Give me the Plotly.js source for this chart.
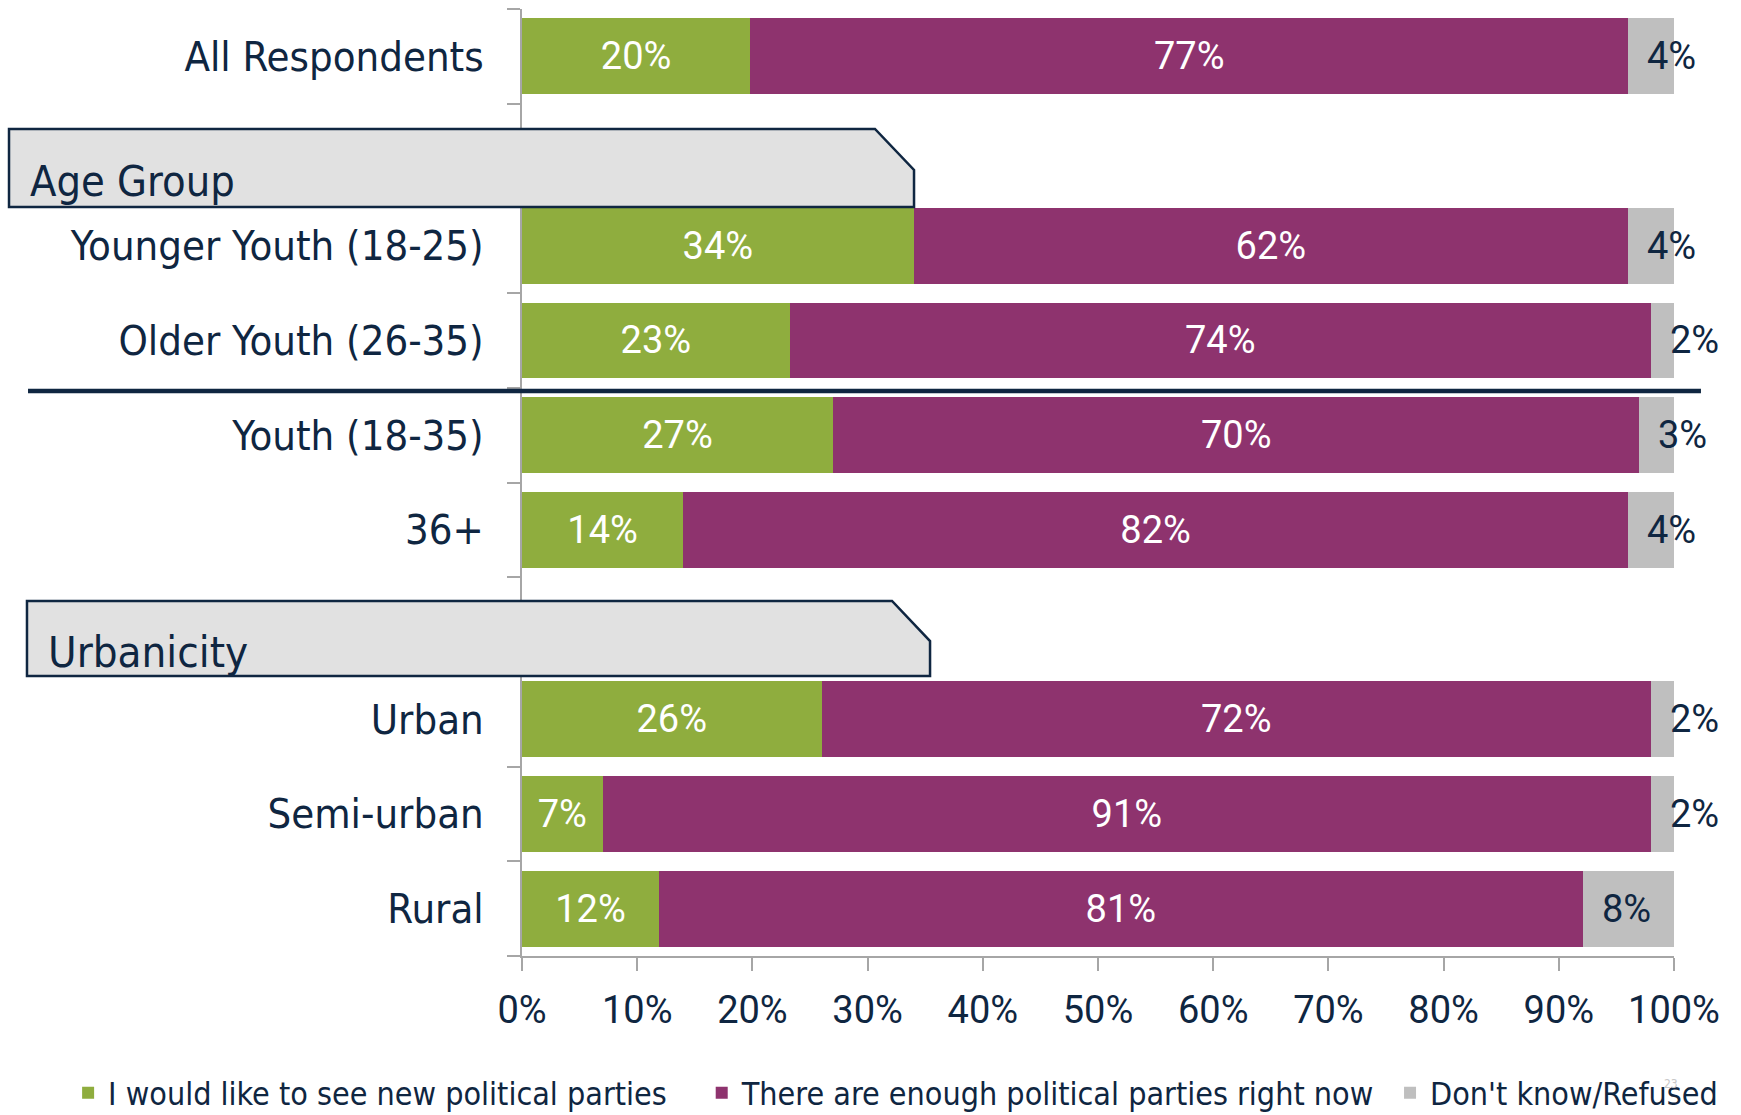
<!DOCTYPE html>
<html><head><meta charset="utf-8">
<script src="https://cdn.plot.ly/plotly-3.0.1.min.js"></script>
<style>html,body{margin:0;padding:0;background:#fff;} #chart{width:1741px;height:1115px;}</style>
</head><body><div id="chart"></div>
<script>
// ---- data ----
const categories = ["All Respondents", "Younger Youth (18-25)", "Older Youth (26-35)", "Youth (18-35)", "36+", "Urban", "Semi-urban", "Rural"];
const rowOrder = ["All Respondents", "Age Group", "Younger Youth (18-25)", "Older Youth (26-35)", "Youth (18-35)", "36+", "Urbanicity", "Urban", "Semi-urban", "Rural"];
const groupHeaders = ["Age Group", "Urbanicity"];
const newParties = [20, 34, 23, 27, 14, 26, 7, 12];
const enoughParties = [77, 62, 74, 70, 82, 72, 91, 81];
const dontKnow = [4, 4, 2, 3, 4, 2, 2, 8];
const seriesNames = ["I would like to see new political parties", "There are enough political parties right now", "Don't know/Refused"];
const xTickVals = [0, 10, 20, 30, 40, 50, 60, 70, 80, 90, 100];
const xTickText = ["0%", "10%", "20%", "30%", "40%", "50%", "60%", "70%", "80%", "90%", "100%"];

// ---- style ----
const NAVY = '#0f2641';
const GREEN = '#8fad3e';
const PURPLE = '#8e336e';
const GRAY = '#bfbfbf';
const AXIS = '#a6a6a6';
const NUMFONT = "Roboto, 'DejaVu Sans Condensed', sans-serif";
const LABFONT = "'DejaVu Sans Condensed', 'DejaVu Sans', sans-serif";

const pct = v => v.map(x => x + '%');

const traces = [
  {type: 'bar', orientation: 'h', name: seriesNames[0], y: categories, x: newParties,
   marker: {color: GREEN}, text: pct(newParties), textposition: 'inside', insidetextanchor: 'middle',
   constraintext: 'none', textangle: 0, insidetextfont: {family: NUMFONT, size: 38, color: '#ffffff'},
   hoverinfo: 'skip', legend: 'legend'},
  {type: 'bar', orientation: 'h', name: seriesNames[1], y: categories, x: enoughParties,
   marker: {color: PURPLE}, text: pct(enoughParties), textposition: 'inside', insidetextanchor: 'middle',
   constraintext: 'none', textangle: 0, insidetextfont: {family: NUMFONT, size: 38, color: '#ffffff'},
   hoverinfo: 'skip', legend: 'legend2'},
  {type: 'bar', orientation: 'h', name: seriesNames[2], y: categories, x: dontKnow,
   marker: {color: GRAY}, textposition: 'none', hoverinfo: 'skip', legend: 'legend3'}
];

// labels for the grey segment, anchored at the start of the segment
const dkLabels = categories.map((c, i) => {
  const tot = newParties[i] + enoughParties[i] + dontKnow[i];
  return {x: (newParties[i] + enoughParties[i]) / tot * 100, y: c, xref: 'x', yref: 'y',
    text: dontKnow[i] + '%', showarrow: false, xanchor: 'left', yanchor: 'middle', xshift: 17,
    font: {family: NUMFONT, size: 38, color: NAVY}};
});

const boxPath = (x0, x1, xc, yTop, yBot, yc) =>
  `M${x0},${yTop} L${xc},${yTop} L${x1},${yc} L${x1},${yBot} L${x0},${yBot} Z`;

const legendBase = (x) => ({orientation: 'h', x: x, y: -0.1447, xanchor: 'left', yanchor: 'middle',
  font: {family: LABFONT, size: 32, color: NAVY}, bgcolor: 'rgba(0,0,0,0)'});

const layout = {
  width: 1741, height: 1115,
  margin: {l: 522, r: 67, t: 9, b: 159, autoexpand: false},
  paper_bgcolor: '#ffffff', plot_bgcolor: '#ffffff',
  barmode: 'stack', barnorm: 'percent', bargap: 0.2,
  xaxis: {range: [0, 100], tickmode: 'array', tickvals: xTickVals, ticktext: xTickText,
    showline: true, linecolor: AXIS, linewidth: 2, ticks: 'outside', ticklen: 13, tickwidth: 2, tickcolor: AXIS,
    showgrid: false, zeroline: false, tickfont: {family: NUMFONT, size: 38, color: NAVY}, ticklabelstandoff: 6, fixedrange: true},
  yaxis: {type: 'category', categoryorder: 'array', categoryarray: rowOrder, autorange: 'reversed',
    tickmode: 'array', tickvals: rowOrder, ticktext: rowOrder.map(r => groupHeaders.includes(r) ? '' : r),
    tickson: 'boundaries', ticks: 'outside', ticklen: 13, tickwidth: 2, tickcolor: AXIS,
    showline: true, linecolor: AXIS, linewidth: 2, showgrid: false, zeroline: false,
    tickfont: {family: LABFONT, size: 41.5, color: NAVY}, ticklabelstandoff: 28, fixedrange: true},
  showlegend: true,
  legend: legendBase(-0.394),
  legend2: legendBase(0.156),
  legend3: legendBase(0.7535),
  shapes: [
    {type: 'path', xref: 'paper', yref: 'paper', layer: 'above',
     path: boxPath(-0.4453, 0.3403, 0.3064, 0.8733, 0.7909, 0.830),
     fillcolor: '#e1e1e1', line: {color: NAVY, width: 2.5}},
    {type: 'path', xref: 'paper', yref: 'paper', layer: 'above',
     path: boxPath(-0.4297, 0.3542, 0.3212, 0.3749, 0.2957, 0.3326),
     fillcolor: '#e1e1e1', line: {color: NAVY, width: 2.5}},
    {type: 'line', xref: 'paper', yref: 'paper', layer: 'above',
     x0: -0.4288, x1: 1.0234, y0: 0.5966, y1: 0.5966, line: {color: NAVY, width: 4.5}}
  ],
  annotations: dkLabels.concat([
    {xref: 'paper', yref: 'paper', x: -0.429, y: 0.8185, xanchor: 'left', yanchor: 'middle', showarrow: false,
     text: groupHeaders[0], font: {family: LABFONT, size: 43, color: NAVY}},
    {xref: 'paper', yref: 'paper', x: -0.4135, y: 0.3215, xanchor: 'left', yanchor: 'middle', showarrow: false,
     text: groupHeaders[1], font: {family: LABFONT, size: 43.5, color: NAVY}},
    {xref: 'paper', yref: 'paper', x: 0.997, y: -0.135, xanchor: 'center', yanchor: 'middle', showarrow: false,
     text: '23', font: {family: LABFONT, size: 12, color: '#c8c8c8'}}
  ])
};

Plotly.newPlot('chart', traces, layout, {displayModeBar: false, staticPlot: true});
</script>
</body></html>
